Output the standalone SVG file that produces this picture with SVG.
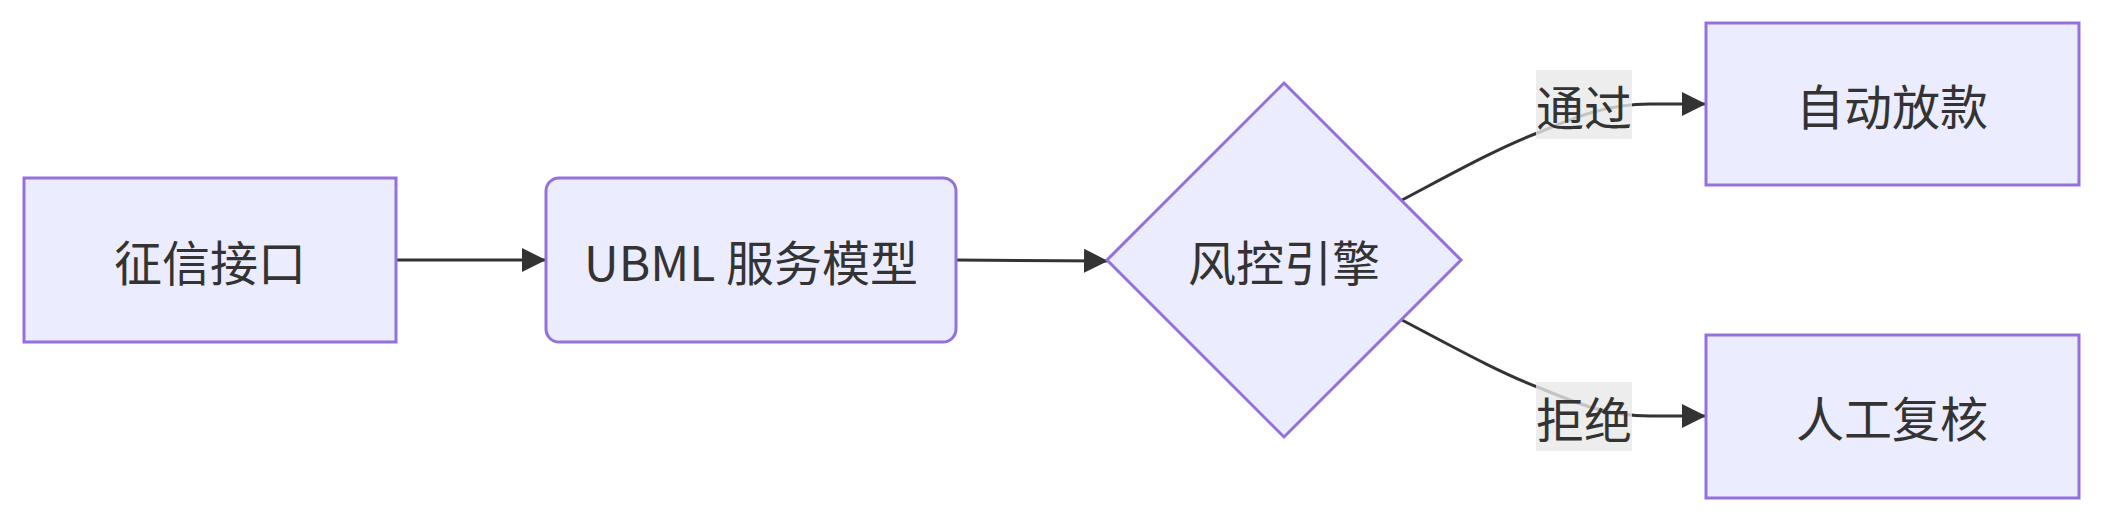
<svg xmlns="http://www.w3.org/2000/svg" width="2103" height="522" viewBox="0 0 2103 522">
<style>
.node{fill:#ECECFF;stroke:#9370DB;stroke-width:3}
.lbl{font-family:"Noto Sans CJK SC","Noto Sans",sans-serif;font-size:48px;fill:#333;text-anchor:middle;dominant-baseline:central}
.edge{fill:none;stroke:#333;stroke-width:3}
.elbg{fill:#e8e8e8;fill-opacity:0.8}
</style>
<defs>
<marker id="arr" markerUnits="userSpaceOnUse" markerWidth="24" markerHeight="24" refX="23" refY="12" orient="auto" viewBox="0 0 24 24">
<path d="M0,0 L24,12 L0,24 z" fill="#333"/>
</marker>
</defs>
<rect width="2103" height="522" fill="#ffffff"/>
<g id="connectors">
<path class="edge" d="M396,260 L545,260" marker-end="url(#arr)"/>
<path class="edge" d="M956,260 C1010,260 1060,260.5 1107,261" marker-end="url(#arr)"/>
<path class="edge" d="M1402,200 C1455,172 1500,147 1540,132 C1578,116 1608,104 1650,104 L1705,104" marker-end="url(#arr)"/>
<path class="edge" d="M1402,320 C1455,348 1500,373 1540,388 C1578,404 1608,416 1650,416 L1705,416" marker-end="url(#arr)"/>
</g>
<g id="node-zhengxin">
<rect class="node" x="24" y="178" width="372" height="164"/>
<text class="lbl" x="210" y="260">征信接口</text>
</g>
<g id="node-ubml">
<rect class="node" x="546" y="178" width="410" height="164" rx="13" ry="13"/>
<text class="lbl" x="751" y="260">UBML 服务模型</text>
</g>
<g id="node-fengkong">
<polygon class="node" points="1284,83 1461,260 1284,437 1107,260"/>
<text class="lbl" x="1284" y="260">风控引擎</text>
</g>
<g id="node-fangkuan">
<rect class="node" x="1706" y="23" width="373" height="162"/>
<text class="lbl" x="1892" y="104">自动放款</text>
</g>
<g id="node-fuhe">
<rect class="node" x="1706" y="335" width="373" height="163"/>
<text class="lbl" x="1892" y="416">人工复核</text>
</g>
<g id="edge-labels">
<g id="label-tongguo">
<rect class="elbg" x="1536" y="70" width="96" height="69"/>
<text class="lbl" x="1584" y="104.5">通过</text>
</g>
<g id="label-jujue">
<rect class="elbg" x="1536" y="382" width="96" height="69"/>
<text class="lbl" x="1584" y="416.5">拒绝</text>
</g>
</g>
</svg>
